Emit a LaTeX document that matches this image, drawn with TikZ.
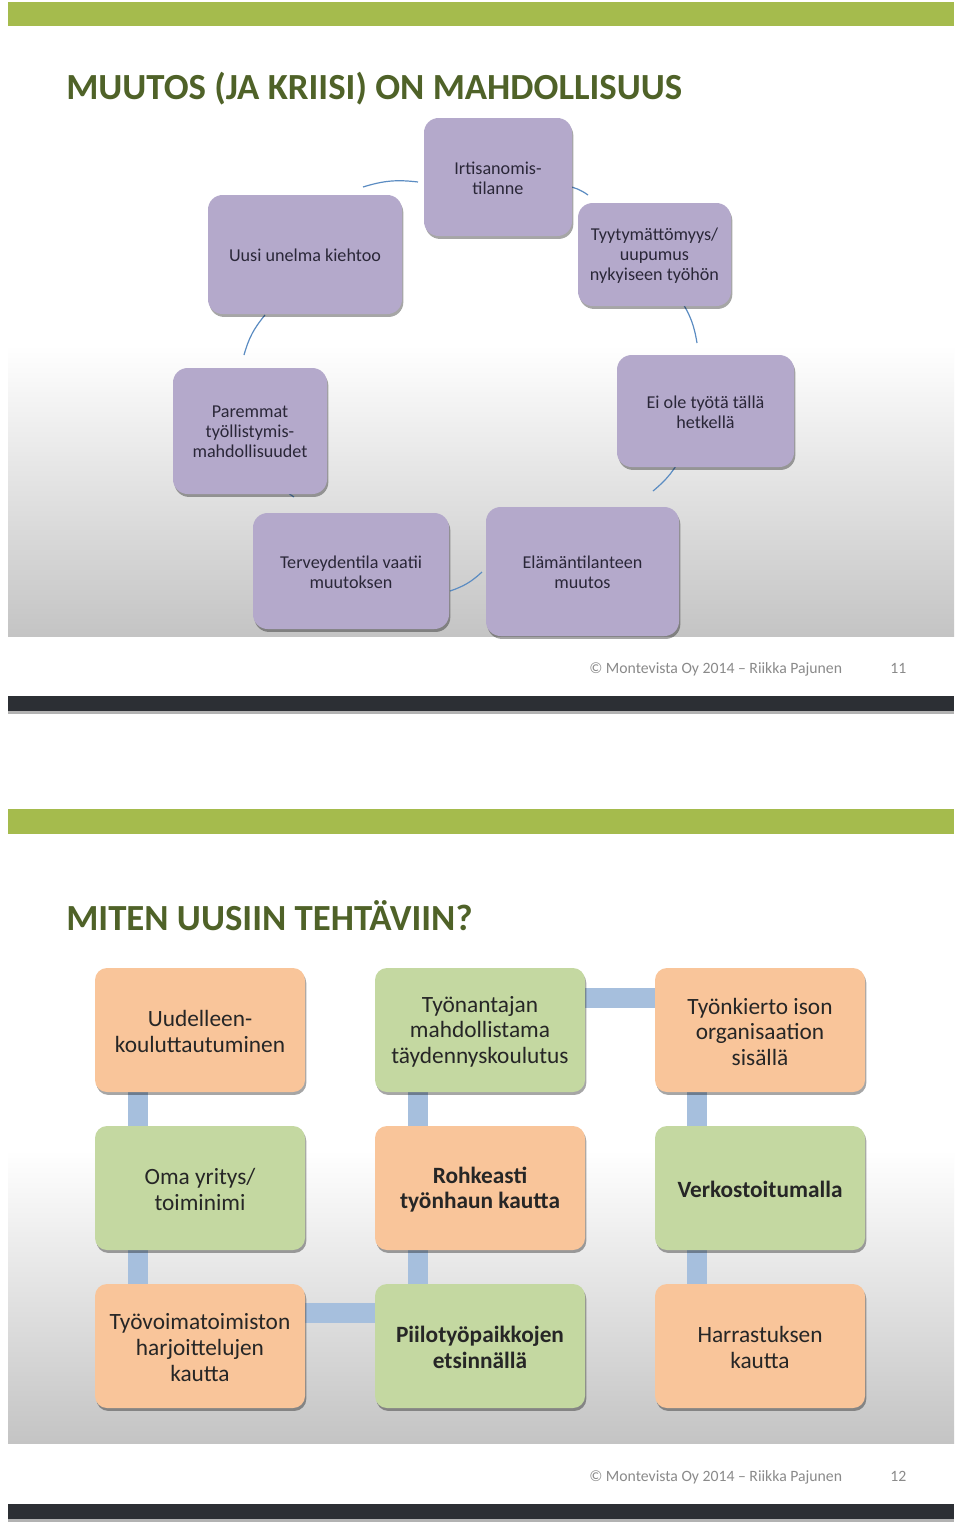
\documentclass[tikz,border=0pt]{standalone}
\usepackage{fontspec}
\setmainfont{Carlito}
\usetikzlibrary{shadows,fit}
\definecolor{barGreen}{HTML}{A5BB4D}
\definecolor{titleGreen}{HTML}{4F6228}
\definecolor{purpleBox}{HTML}{B4A9CB}
\definecolor{orangeBox}{HTML}{F9C59A}
\definecolor{greenBox}{HTML}{C4D8A1}
\definecolor{linkBlue}{HTML}{A6BFDD}
\definecolor{arcBlue}{HTML}{5B8CC2}
\definecolor{darkBar}{HTML}{2C2F34}
\definecolor{footGray}{HTML}{8A8A8A}
\definecolor{boxTextA}{HTML}{2A2738}
\definecolor{boxTextB}{HTML}{262626}
\definecolor{panelGray}{HTML}{C4C4C4}
\pgfdeclarelayer{bg}
\pgfdeclarelayer{links}
\pgfsetlayers{bg,links,main}
\def\pxu{0.75pt}
\tikzset{
  shadowed/.style={drop shadow={shadow xshift=1pt,shadow yshift=-2.2pt,opacity=.35,fill=black}},
  pbox/.style={rounded corners=11pt,fill=purpleBox,draw=none,shadowed,inner sep=0pt},
  obox/.style={rounded corners=9pt,fill=orangeBox,draw=none,shadowed,inner sep=0pt},
  gbox/.style={obox,fill=greenBox},
  ptxt/.style={align=center,text=boxTextA,font=\fontsize{13.6}{15}\selectfont,yshift=-0.6pt},
  otxt/.style={align=center,text=boxTextB,font=\fontsize{17.5}{19.2}\selectfont,yshift=-1.2pt},
  btxt/.style={otxt,font=\fontsize{17.5}{19.2}\selectfont\bfseries},
  arcline/.style={draw=arcBlue,line width=0.9pt,bend left=12},
  linkbar/.style={draw=linkBlue,line width=15pt},
  titletext/.style={anchor=base west,inner sep=0pt,text=titleGreen,font=\fontsize{27.6}{30}\selectfont\bfseries},
  foottext/.style={anchor=base west,inner sep=0pt,text=footGray,font=\fontsize{11.8}{13}\selectfont},
  greenbar/.style={fill=barGreen},
  darkbar/.style={fill=darkBar,drop shadow={shadow xshift=0pt,shadow yshift=-2pt,opacity=.3,fill=black}},
  panel/.style={top color=white,bottom color=panelGray}
}
\begin{document}
\begin{tikzpicture}[x=0.75pt,y=-0.75pt]
\useasboundingbox (0,0) rectangle (960,1525);
\begin{pgfonlayer}{bg}
  \fill[white] (0,0) rectangle (960,1525);
  % slide 1
  \path[greenbar] (8,2) rectangle (954,26);
  \path[panel] (8,345) rectangle (954,636);
  \path[darkbar] (8,696) rectangle (954,711);
  % slide 2
  \path[greenbar] (8,809) rectangle (954,834);
  \path[panel] (8,1150) rectangle (954,1443);
  \path[darkbar] (8,1504) rectangle (954,1519);
\end{pgfonlayer}

% ---------- slide 1 ----------
\node[titletext] (title1) at (66,99) {MUUTOS (JA KRIISI) ON MAHDOLLISUUS};

\node[pbox,fit={(424,118) (572,236)},label={[ptxt]center:{Irtisanomis-\\tilanne}}] (irt) {};
\node[pbox,fit={(208,195) (402,314)},label={[ptxt]center:{Uusi unelma kiehtoo}}] (uusi) {};
\node[pbox,fit={(578,203) (731,306)},label={[ptxt]center:{Tyytymättömyys/\\uupumus\\nykyiseen työhön}}] (tyyty) {};
\node[pbox,fit={(173,368) (327,494)},label={[ptxt]center:{Paremmat\\työllistymis-\\mahdollisuudet}}] (parem) {};
\node[pbox,fit={(617,355) (794,467)},label={[ptxt]center:{Ei ole työtä tällä\\hetkellä}}] (eiole) {};
\node[pbox,fit={(253,513) (449,629)},label={[ptxt]center:{Terveydentila vaatii\\muutoksen}}] (terv) {};
\node[pbox,fit={(486,507) (679,636)},label={[ptxt]center:{Elämäntilanteen\\muutos}}] (elam) {};

\coordinate (a1s) at (363,187); \coordinate (a1e) at (418,182);
\coordinate (a2s) at (567,186); \coordinate (a2e) at (588,195);
\coordinate (a3s) at (680,299); \coordinate (a3e) at (697,343);
\coordinate (a4s) at (683,453); \coordinate (a4e) at (653,491);
\coordinate (a5s) at (482,572); \coordinate (a5e) at (450,591);
\coordinate (a6s) at (294,497); \coordinate (a6e) at (287,491);
\coordinate (a7s) at (244,355); \coordinate (a7e) at (265,315);
\begin{pgfonlayer}{links}
  \draw[arcline] (a1s) to (a1e);
  \draw[arcline] (a2s) to (a2e);
  \draw[arcline] (a3s) to (a3e);
  \draw[arcline] (a4s) to (a4e);
  \draw[arcline] (a5s) to (a5e);
  \draw[arcline] (a6s) to (a6e);
  \draw[arcline] (a7s) to (a7e);
\end{pgfonlayer}

\node[foottext] (foot1) at (589,673) {© Montevista Oy 2014 – Riikka Pajunen};
\node[foottext] (num1) at (890,673) {11};

% ---------- slide 2 ----------
\node[titletext] (title2) at (66,930) {MITEN UUSIIN TEHTÄVIIN?};

\node[obox,fit={(95,968) (305,1092)},label={[otxt]center:{Uudelleen-\\kouluttautuminen}}] (r1c1) {};
\node[gbox,fit={(375,968) (585,1092)},label={[otxt]center:{Työnantajan\\mahdollistama\\täydennyskoulutus}}] (r1c2) {};
\node[obox,fit={(655,968) (865,1092)},label={[otxt]center:{Työnkierto ison\\organisaation\\sisällä}}] (r1c3) {};
\node[gbox,fit={(95,1126) (305,1250)},label={[otxt]center:{Oma yritys/\\toiminimi}}] (r2c1) {};
\node[obox,fit={(375,1126) (585,1250)},label={[btxt]center:{Rohkeasti\\työnhaun kautta}}] (r2c2) {};
\node[gbox,fit={(655,1126) (865,1250)},label={[btxt]center:{Verkostoitumalla}}] (r2c3) {};
\node[obox,fit={(95,1284) (305,1408)},label={[otxt]center:{Työvoimatoimiston\\harjoittelujen\\kautta}}] (r3c1) {};
\node[gbox,fit={(375,1284) (585,1408)},label={[btxt]center:{Piilotyöpaikkojen\\etsinnällä}}] (r3c2) {};
\node[obox,fit={(655,1284) (865,1408)},label={[otxt]center:{Harrastuksen\\kautta}}] (r3c3) {};

\begin{pgfonlayer}{links}
  \draw[linkbar] ([xshift=43*\pxu]r1c1.south west) -- ([xshift=43*\pxu]r2c1.north west);
  \draw[linkbar] ([xshift=43*\pxu]r1c2.south west) -- ([xshift=43*\pxu]r2c2.north west);
  \draw[linkbar] ([xshift=42*\pxu]r1c3.south west) -- ([xshift=42*\pxu]r2c3.north west);
  \draw[linkbar] ([xshift=43*\pxu]r2c1.south west) -- ([xshift=43*\pxu]r3c1.north west);
  \draw[linkbar] ([xshift=43*\pxu]r2c2.south west) -- ([xshift=43*\pxu]r3c2.north west);
  \draw[linkbar] ([xshift=42*\pxu]r2c3.south west) -- ([xshift=42*\pxu]r3c3.north west);
  \draw[linkbar] ([yshift=-30*\pxu]r1c2.north east) -- ([yshift=-30*\pxu]r1c3.north west);
  \draw[linkbar] ([yshift=-29*\pxu]r3c1.north east) -- ([yshift=-29*\pxu]r3c2.north west);
\end{pgfonlayer}

\node[foottext] (foot2) at (589,1481) {© Montevista Oy 2014 – Riikka Pajunen};
\node[foottext] (num2) at (890,1481) {12};
\end{tikzpicture}
\end{document}
